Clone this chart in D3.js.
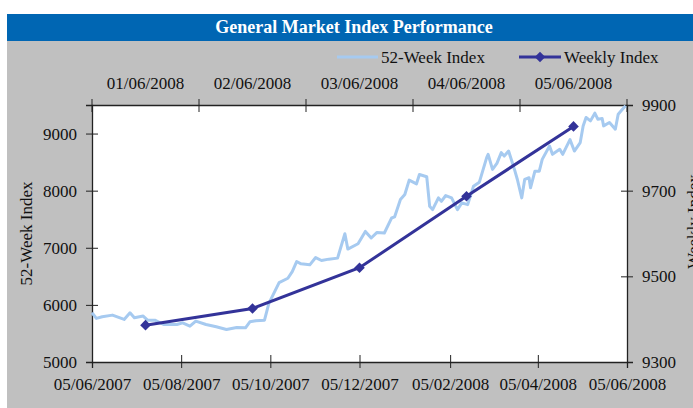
<!DOCTYPE html>
<html>
<head>
<meta charset="utf-8">
<script src="https://cdn.jsdelivr.net/npm/d3@7"></script>
<style>
  body { margin: 0; background: #fff; }
  svg { display: block; font-family: "Liberation Serif", "Times New Roman", serif; }
  .axis text { font-size: 17px; fill: #111; font-family: "Liberation Serif", "Times New Roman", serif; }
  .axis path, .axis line { stroke: #222; }
</style>
</head>
<body>
<div id="chart"></div>
<script>
// 52-week index (daily closes)
var weekDates = [
  '2007-06-05', '2007-06-08', '2007-06-12', '2007-06-19', '2007-06-27', '2007-07-01',
  '2007-07-04', '2007-07-10', '2007-07-13', '2007-07-18', '2007-07-24', '2007-08-02',
  '2007-08-06', '2007-08-11', '2007-08-15', '2007-08-22', '2007-08-29', '2007-09-05',
  '2007-09-12', '2007-09-18', '2007-09-21', '2007-09-25', '2007-10-01', '2007-10-04',
  '2007-10-11', '2007-10-17', '2007-10-20', '2007-10-23', '2007-10-26', '2007-11-01',
  '2007-11-05', '2007-11-09', '2007-11-14', '2007-11-20', '2007-11-25', '2007-11-27',
  '2007-12-04', '2007-12-09', '2007-12-13', '2007-12-17', '2007-12-22', '2007-12-27',
  '2007-12-29', '2008-01-02', '2008-01-05', '2008-01-08', '2008-01-13', '2008-01-15',
  '2008-01-20', '2008-01-22', '2008-01-24', '2008-01-28', '2008-01-30', '2008-02-02',
  '2008-02-06', '2008-02-10', '2008-02-13', '2008-02-17', '2008-02-21', '2008-02-25',
  '2008-03-01', '2008-03-02', '2008-03-05', '2008-03-08', '2008-03-11', '2008-03-13',
  '2008-03-16', '2008-03-20', '2008-03-22', '2008-03-25', '2008-03-27', '2008-03-30',
  '2008-03-31', '2008-04-03', '2008-04-06', '2008-04-08', '2008-04-13', '2008-04-15',
  '2008-04-20', '2008-04-22', '2008-04-27', '2008-04-30', '2008-05-04', '2008-05-06',
  '2008-05-08', '2008-05-11', '2008-05-14', '2008-05-16', '2008-05-19', '2008-05-20',
  '2008-05-24', '2008-05-28', '2008-05-30', '2008-06-01', '2008-06-04'
];
var weekValues = [
  5862, 5763, 5792, 5821, 5746, 5862,
  5774, 5804, 5733, 5733, 5657, 5657,
  5686, 5628, 5716, 5657, 5616, 5570,
  5605, 5598, 5704, 5721, 5733, 6027,
  6390, 6467, 6583, 6759, 6719, 6701,
  6829, 6777, 6801, 6819, 7246, 6977,
  7070, 7287, 7171, 7269, 7259, 7522,
  7540, 7844, 7932, 8184, 8120, 8284,
  8244, 7726, 7668, 7874, 7814, 7915,
  7874, 7668, 7786, 7756, 8078, 8149,
  8578, 8636, 8372, 8478, 8666, 8606,
  8694, 8372, 8196, 7874, 8196, 8226,
  8050, 8342, 8342, 8548, 8782, 8636,
  8724, 8636, 8894, 8694, 8842, 9134,
  9282, 9222, 9357, 9252, 9264, 9134,
  9193, 9076, 9340, 9398, 9486
];

// weekly index (top / right axes)
var weeklyLabels = ['01/06/2008', '02/06/2008', '03/06/2008', '04/06/2008', '05/06/2008'];
var weeklyValues = [9386, 9425, 9520, 9687, 9850];

// axis ticks
var dateTicks = ['05/06/2007', '05/08/2007', '05/10/2007', '05/12/2007', '05/02/2008', '05/04/2008', '05/06/2008'];
var leftTicks = [5000, 6000, 7000, 8000, 9000];
var rightTicks = [9300, 9500, 9700, 9900];

var width = 693,
    height = 408;

var margin = { top: 105, right: 66, bottom: 46, left: 92 };
var innerWidth = width - margin.left - margin.right,
    innerHeight = height - margin.top - margin.bottom;

var parseIso = d3.timeParse('%Y-%m-%d'),
    parseTick = d3.timeParse('%d/%m/%Y'),
    formatTick = d3.timeFormat('%d/%m/%Y');

var lightBlue = '#A6CAF0',
    navy = '#333399',
    serif = '"Liberation Serif", "Times New Roman", serif';

var svg = d3.select('#chart').append('svg')
    .attr('width', width)
    .attr('height', height)
    .attr('viewBox', '0 0 ' + width + ' ' + height);

// panel background + title bar
svg.append('rect').attr('x', 7).attr('y', 41).attr('width', width - 7).attr('height', height - 41).attr('fill', '#C0C0C0');
svg.append('rect').attr('x', 7).attr('y', 14).attr('width', width - 7).attr('height', 27).attr('fill', '#0066B3');
svg.append('text')
    .attr('x', 354).attr('y', 33)
    .attr('text-anchor', 'middle')
    .attr('fill', '#fff')
    .attr('font-weight', 'bold')
    .attr('font-size', 18)
    .text('General Market Index Performance');

var g = svg.append('g').attr('transform', 'translate(' + margin.left + ',' + margin.top + ')');

g.append('rect').attr('width', innerWidth).attr('height', innerHeight).attr('fill', '#fff');

// scales
var x = d3.scaleTime()
    .domain([parseTick(dateTicks[0]), parseTick(dateTicks[dateTicks.length - 1])])
    .range([0, innerWidth]);
var xTop = d3.scaleBand().domain(weeklyLabels).range([0, innerWidth]);
var yLeft = d3.scaleLinear().domain([5000, 9500]).range([innerHeight, 0]);
var yRight = d3.scaleLinear().domain([9300, 9900]).range([innerHeight, 0]);

// axes
var bottomAxis = g.append('g').attr('class', 'axis')
    .attr('transform', 'translate(0,' + innerHeight + ')')
    .call(d3.axisBottom(x).tickValues(dateTicks.map(parseTick)).tickFormat(formatTick).tickSize(6).tickPadding(10));
bottomAxis.selectAll('.tick line').attr('y1', -7);
bottomAxis.selectAll('text').attr('text-anchor', 'middle');

var topAxis = g.append('g').attr('class', 'axis')
    .call(d3.axisTop(xTop).tickSize(0).tickPadding(16));
topAxis.selectAll('.tick line').remove();
topAxis.selectAll('text').attr('text-anchor', 'middle');
topAxis.selectAll('.bound')
    .data(weeklyLabels.map(function (d) { return xTop(d); }).concat([innerWidth]))
    .enter().append('line')
    .attr('class', 'bound')
    .attr('x1', function (d) { return d; }).attr('x2', function (d) { return d; })
    .attr('y1', -6).attr('y2', 7);

var leftAxis = g.append('g').attr('class', 'axis')
    .call(d3.axisLeft(yLeft).tickValues(leftTicks).tickFormat(d3.format('d')).tickSize(6).tickPadding(9));
leftAxis.selectAll('.tick line').attr('x2', -6).attr('x1', 6);
leftAxis.selectAll('text').attr('text-anchor', 'end');

var rightAxis = g.append('g').attr('class', 'axis')
    .attr('transform', 'translate(' + innerWidth + ',0)')
    .call(d3.axisRight(yRight).tickValues(rightTicks).tickFormat(d3.format('d')).tickSize(6).tickPadding(9));
rightAxis.selectAll('.tick line').attr('x1', -6);
rightAxis.selectAll('text').attr('text-anchor', 'start');

g.selectAll('.axis').attr('font-family', serif).attr('font-size', 17);
g.selectAll('.axis path').attr('stroke-width', 1.3);

// axis titles
svg.append('text')
    .attr('transform', 'translate(32,' + (margin.top + innerHeight / 2) + ') rotate(-90)')
    .attr('text-anchor', 'middle')
    .attr('font-size', 17)
    .attr('fill', '#111')
    .text('52-Week Index');
svg.append('text')
    .attr('transform', 'translate(699,' + (margin.top + innerHeight / 2 - 12) + ') rotate(-90)')
    .attr('text-anchor', 'middle')
    .attr('font-size', 17)
    .attr('fill', '#111')
    .text('Weekly Index');

// 52-week line
var weekData = weekDates.map(function (d, i) { return { date: parseIso(d), value: weekValues[i] }; });
g.append('path')
    .datum(weekData)
    .attr('fill', 'none')
    .attr('stroke', lightBlue)
    .attr('stroke-width', 3)
    .attr('stroke-linejoin', 'round')
    .attr('d', d3.line()
        .x(function (d) { return x(d.date); })
        .y(function (d) { return yLeft(d.value); }));

// weekly line + diamonds
var weeklyData = weeklyLabels.map(function (d, i) { return { label: d, value: weeklyValues[i] }; });
var cx = function (d) { return xTop(d.label) + xTop.bandwidth() / 2; };
g.append('path')
    .datum(weeklyData)
    .attr('fill', 'none')
    .attr('stroke', navy)
    .attr('stroke-width', 3)
    .attr('d', d3.line().x(cx).y(function (d) { return yRight(d.value); }));

var diamond = d3.symbol(d3.symbolSquare, 56);
g.selectAll('.marker')
    .data(weeklyData)
    .enter().append('path')
    .attr('class', 'marker')
    .attr('fill', navy)
    .attr('d', diamond)
    .attr('transform', function (d) { return 'translate(' + cx(d) + ',' + yRight(d.value) + ') rotate(45)'; });

// legend
var legend = svg.append('g').attr('font-size', 17).attr('fill', '#111');
legend.append('line').attr('x1', 337).attr('x2', 378).attr('y1', 57).attr('y2', 57)
    .attr('stroke', lightBlue).attr('stroke-width', 3);
legend.append('text').attr('x', 381).attr('y', 63).text('52-Week Index');
legend.append('line').attr('x1', 519).attr('x2', 561).attr('y1', 57).attr('y2', 57)
    .attr('stroke', navy).attr('stroke-width', 3);
legend.append('path').attr('d', diamond).attr('fill', navy)
    .attr('transform', 'translate(540,57) rotate(45)');
legend.append('text').attr('x', 564).attr('y', 63).text('Weekly Index');
</script>
</body>
</html>
